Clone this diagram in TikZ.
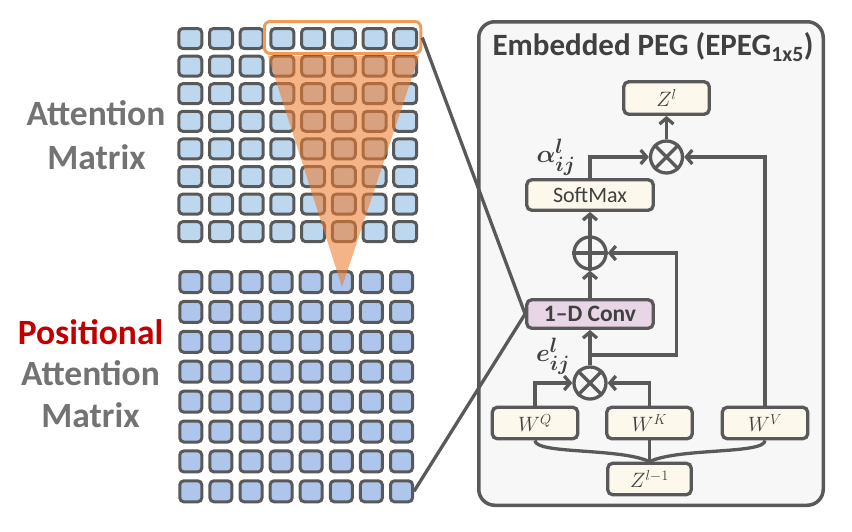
\documentclass[tikz,border=0pt]{standalone}
\usepackage{fontspec}
\usepackage{amsmath}
\setmainfont{Carlito}
\setsansfont{Carlito}
\usetikzlibrary{arrows.meta}
\definecolor{gline}{HTML}{595959}
\definecolor{txt}{HTML}{404040}
\definecolor{cellA}{HTML}{BDD7EE}
\definecolor{cellB}{HTML}{AEC5EC}
\definecolor{panelbg}{HTML}{F7F7F7}
\definecolor{cream}{HTML}{FDF8EC}
\definecolor{convbg}{HTML}{E8D6E6}
\definecolor{orangeB}{HTML}{F39A55}
\definecolor{orangeF}{HTML}{ED7D31}
\definecolor{labgray}{HTML}{737373}
\definecolor{labred}{HTML}{C00000}
\tikzset{
  topcell/.style={draw=gline, fill=cellA, line width=3pt, rounded corners=4pt, minimum width=23pt, minimum height=20pt, inner sep=0pt},
  botcell/.style={draw=gline, fill=cellB, line width=3pt, rounded corners=4pt, minimum width=22pt, minimum height=21pt, inner sep=0pt},
  ybox/.style={draw=gline, fill=cream, line width=3.3pt, rounded corners=5pt, inner sep=0pt, text=txt, font=\fontsize{22}{25}\selectfont},
  opnode/.style={draw=gline, fill=panelbg, circle, line width=3.3pt, minimum size=32pt, inner sep=0pt},
  gl/.style={draw=gline, line width=3.3pt},
  arr/.style={draw=gline, line width=3.3pt, -{Straight Barb[length=6pt,width=14pt]}},
  lab/.style={font=\fontsize{35.5}{40}\selectfont\bfseries, text=labgray, inner sep=0pt},
}
\begin{document}
\begin{tikzpicture}[x=1pt,y=-1pt]
\useasboundingbox (0,0) rectangle (852,531);
% grids
\foreach \r in {1,...,8} {
  \foreach \c in {1,...,8} {
    \node[topcell] (a-\r-\c) at ({190.3+30.7*(\c-1)},{38.5+27.6*(\r-1)}) {};
    \node[botcell] (b-\r-\c) at ({190.8+30.1*(\c-1)},{282+29.9*(\r-1)}) {};
  }
}
% triangle
\fill[orangeF, opacity=0.58] (268,56) -- (419,56) -- (342,287) -- cycle;
\node[draw=orangeB, line width=3pt, rounded corners=6pt, minimum width=156.5pt, minimum height=32pt, inner sep=0pt] (hl) at (342.5,37.5) {};
% left labels
\node[lab] (l1) at (96,113) {Attention};
\node[lab] (l2) at (96.5,157) {Matrix};
\node[lab, text=labred] (l3) at (90.5,332) {Positional};
\node[lab] (l4) at (90.5,373) {Attention};
\node[lab] (l5) at (90.5,415) {Matrix};
% panel
\node[draw=gline, fill=panelbg, line width=3.5pt, rounded corners=16pt, minimum width=344.5pt, minimum height=483.5pt, inner sep=0pt] (peg) at (651,263.5) {};
\node[font=\fontsize{31}{35}\selectfont\bfseries, text=txt, inner sep=0pt] (ttl) at (653,47) {Embedded PEG (EPEG\textsubscript{1x5})};
% boxes
\node[ybox, minimum width=85.5pt, minimum height=32.5pt] (Zl) at (666.5,98) {$Z^{l}$};
\node[ybox, minimum width=126.5pt, minimum height=30.5pt] (sm) at (590,195) {SoftMax};
\node[ybox, fill=convbg, minimum width=126.5pt, minimum height=28.5pt, font=\fontsize{23.5}{26}\selectfont\bfseries] (conv) at (590,314) {1–D Conv};
\node[ybox, minimum width=85.5pt, minimum height=31.5pt] (WQ) at (535,423) {$W^{Q}$};
\node[ybox, minimum width=85.5pt, minimum height=31.5pt] (WK) at (649.5,423) {$W^{K}$};
\node[ybox, minimum width=85.5pt, minimum height=31.5pt] (WV) at (765,423) {$W^{V}$};
\node[ybox, minimum width=83.5pt, minimum height=31.5pt] (Zl1) at (649.5,479) {$Z^{l-1}$};
% operators
\node[opnode] (otop) at (666.5,157) {};
\draw[gl] (otop.north east) -- (otop.south west) (otop.north west) -- (otop.south east);
\node[opnode] (oplus) at (590,253) {};
\draw[gl] (oplus.north) -- (oplus.south) (oplus.west) -- (oplus.east);
\node[opnode] (obot) at (590,383) {};
\draw[gl] (obot.north east) -- (obot.south west) (obot.north west) -- (obot.south east);
% math labels
\node[text=txt, inner sep=0pt, font=\fontsize{28}{32}\selectfont] (alab) at (556,157) {$\boldsymbol{\alpha}^{\boldsymbol{l}}_{\boldsymbol{ij}}$};
\node[text=txt, inner sep=0pt, font=\fontsize{28}{32}\selectfont] (elab) at (553,356) {$\boldsymbol{e}^{\boldsymbol{l}}_{\boldsymbol{ij}}$};
% connectors
\draw[arr] (otop.north) -- (Zl.south);
\draw[arr] (sm.north) |- (otop.west);
\draw[arr] (WV.north) |- (otop.east);
\draw[arr] (oplus.north) -- (sm.south);
\draw[arr] (conv.north) -- (oplus.south);
\draw[arr] (obot.north) -- (conv.south);
\coordinate (sk) at (590,355);
\draw[arr] (sk) -- ++(86.5,0) |- (oplus.east);
\draw[arr] (WQ.north) |- (obot.west);
\draw[arr] (WK.north) |- (obot.east);
\draw[gl] (Zl1.north) .. controls +(-30,-14) and +(0,14) .. (WQ.south);
\draw[gl] (Zl1.north) -- (WK.south);
\draw[gl] (Zl1.north) .. controls +(30,-14) and +(0,14) .. (WV.south);
% zoom lines
\draw[gl] (hl.east) -- (conv.west);
\draw[gl] (b-8-8.east) -- (conv.west);
\end{tikzpicture}
\end{document}
